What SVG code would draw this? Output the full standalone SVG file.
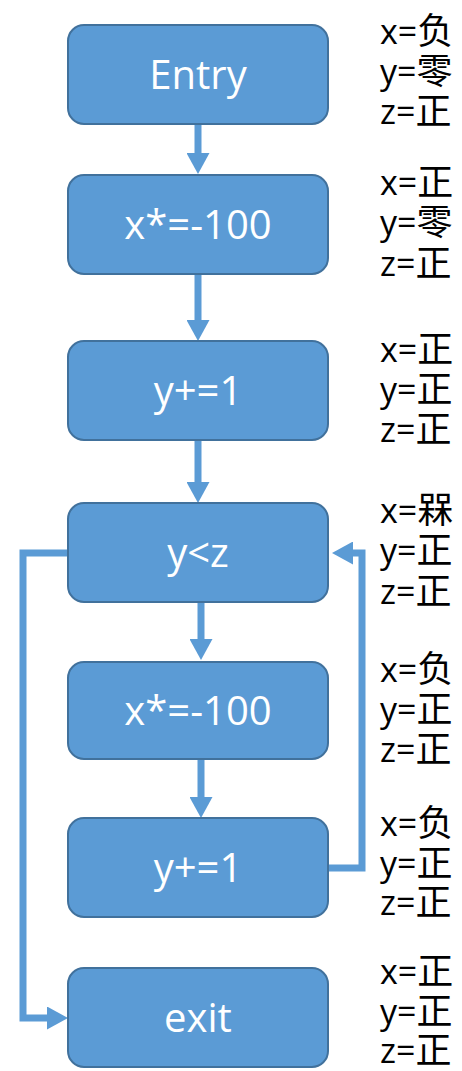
<svg xmlns="http://www.w3.org/2000/svg" width="462" height="1071" viewBox="0 0 462 1071">
<defs>
<style>
.box{fill:#5B9BD5;stroke:#41719C;stroke-width:2}
.lbl{fill:#FFFFFF;font-family:"Open Sans","Liberation Sans",sans-serif;font-size:40px;text-anchor:middle}
.st{fill:#000000;font-family:"Open Sans","Noto Sans CJK SC",sans-serif;font-size:34px}
.st .c{font-family:"Noto Sans CJK SC",sans-serif;font-size:36px}
.con{fill:none;stroke:#5B9BD5;stroke-width:7;marker-end:url(#ah)}
</style>
<marker id="ah" markerUnits="userSpaceOnUse" viewBox="0 0 21 23" refX="0" refY="11.5" markerWidth="21" markerHeight="23" orient="auto">
<path d="M0,0 L21,11.5 L0,23 Z" fill="#5B9BD5"/>
</marker>
</defs>
<g id="connectors">
<path class="con" d="M198,124 V153"/>
<path class="con" d="M198,274 V320"/>
<path class="con" d="M198,440 V482"/>
<path class="con" d="M201,602 V639"/>
<path class="con" d="M201,759 V797"/>
<path class="con" d="M68,553 H23 V1018 H47"/>
<path class="con" d="M328,868 H362 V553 H353"/>
</g>
<g id="entry">
<rect class="box" x="68" y="25" width="260" height="99" rx="16"/>
<text class="lbl" x="198" y="89">Entry</text>
<text class="st" x="380" y="44">x=<tspan class="c">负</tspan></text>
<text class="st" x="380" y="84">y=<tspan class="c">零</tspan></text>
<text class="st" x="380" y="124">z=<tspan class="c">正</tspan></text>
</g>
<g id="n1">
<rect class="box" x="68" y="175" width="260" height="99" rx="16"/>
<text class="lbl" x="198" y="239">x*=-100</text>
<text class="st" x="380" y="195">x=<tspan class="c">正</tspan></text>
<text class="st" x="380" y="235">y=<tspan class="c">零</tspan></text>
<text class="st" x="380" y="276">z=<tspan class="c">正</tspan></text>
</g>
<g id="n2">
<rect class="box" x="68" y="341" width="260" height="99" rx="16"/>
<text class="lbl" x="198" y="405">y+=1</text>
<text class="st" x="380" y="362">x=<tspan class="c">正</tspan></text>
<text class="st" x="380" y="402">y=<tspan class="c">正</tspan></text>
<text class="st" x="380" y="442">z=<tspan class="c">正</tspan></text>
</g>
<g id="n3">
<rect class="box" x="68" y="503" width="260" height="99" rx="16"/>
<text class="lbl" x="198" y="567">y&lt;z</text>
<text class="st" x="380" y="523">x=<tspan class="c">槑</tspan></text>
<text class="st" x="380" y="563">y=<tspan class="c">正</tspan></text>
<text class="st" x="380" y="604">z=<tspan class="c">正</tspan></text>
</g>
<g id="n4">
<rect class="box" x="68" y="662" width="260" height="97" rx="16"/>
<text class="lbl" x="198" y="725">x*=-100</text>
<text class="st" x="380" y="682">x=<tspan class="c">负</tspan></text>
<text class="st" x="380" y="722">y=<tspan class="c">正</tspan></text>
<text class="st" x="380" y="762">z=<tspan class="c">正</tspan></text>
</g>
<g id="n5">
<rect class="box" x="68" y="818" width="260" height="99" rx="16"/>
<text class="lbl" x="198" y="882">y+=1</text>
<text class="st" x="380" y="836">x=<tspan class="c">负</tspan></text>
<text class="st" x="380" y="876">y=<tspan class="c">正</tspan></text>
<text class="st" x="380" y="915">z=<tspan class="c">正</tspan></text>
</g>
<g id="exit">
<rect class="box" x="68" y="968" width="260" height="99" rx="16"/>
<text class="lbl" x="198" y="1032">exit</text>
<text class="st" x="380" y="984">x=<tspan class="c">正</tspan></text>
<text class="st" x="380" y="1024">y=<tspan class="c">正</tspan></text>
<text class="st" x="380" y="1063">z=<tspan class="c">正</tspan></text>
</g>
</svg>
